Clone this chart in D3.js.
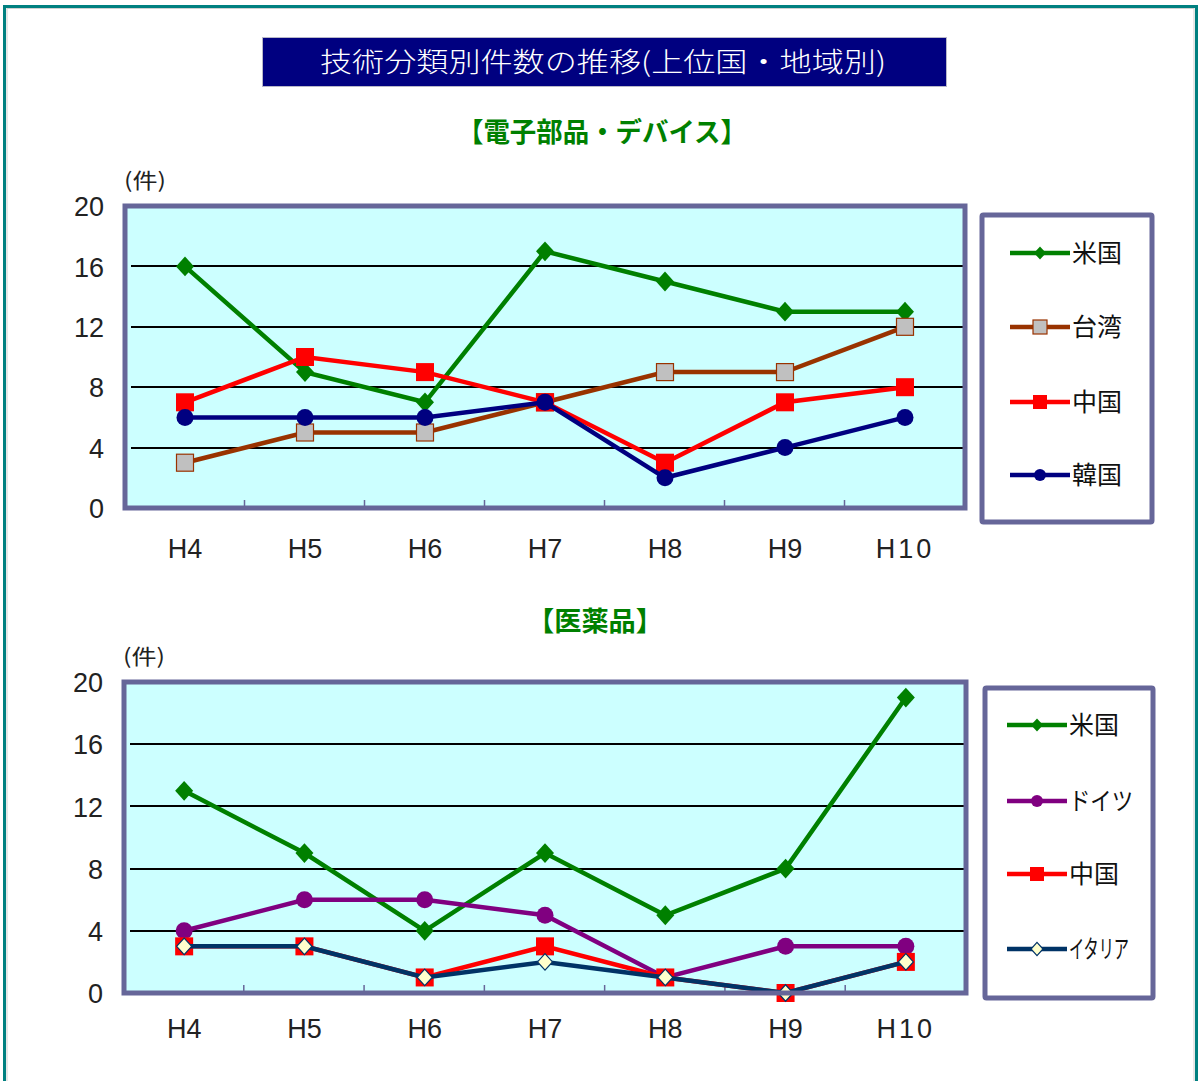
<!DOCTYPE html>
<html>
<head>
<meta charset="utf-8">
<script src="https://cdn.jsdelivr.net/npm/d3@7/dist/d3.min.js"></script>
<style>
  html, body { margin: 0; padding: 0; background: #fff; }
  svg { display: block; }
</style>
</head>
<body>
<svg id="page" width="1199" height="1081"></svg>
<script>
// Fiscal years on the x axis and value ticks on the y axis
const categories = ["H4", "H5", "H6", "H7", "H8", "H9", "H10"];
const yTicks = [0, 4, 8, 12, 16, 20];

// Electronic parts & devices (件)
const elecUS = [16, 9, 7, 17, 15, 13, 13];
const elecTW = [3, 5, 5, 7, 9, 9, 12];
const elecCN = [7, 10, 9, 7, 3, 7, 8];
const elecKR = [6, 6, 6, 7, 2, 4, 6];

// Pharmaceuticals (件)
const pharmaUS = [13, 9, 4, 9, 5, 8, 19];
const pharmaDE = [4, 6, 6, 5, 1, 3, 3];
const pharmaCN = [3, 3, 1, 3, 1, 0, 2];
const pharmaIT = [3, 3, 1, 2, 1, 0, 2];

const pageTitle = "技術分類別件数の推移(上位国・地域別)";
const unitLabel = "(件)";

const svg = d3.select("#page");
const JP = "'Noto Sans CJK JP', 'Noto Sans', sans-serif";
const NUM = "'Liberation Sans', Arial, sans-serif";

// outer frame
svg.append("rect").attr("x", 0).attr("y", 0).attr("width", 1199).attr("height", 1081).attr("fill", "#fff");
svg.append("rect").attr("x", 4.5).attr("y", 6.5).attr("width", 1192).attr("height", 1100)
  .attr("fill", "none").attr("stroke", "#008080").attr("stroke-width", 3);
svg.append("rect").attr("x", 7).attr("y", 8.5).attr("width", 1187).attr("height", 1100)
  .attr("fill", "none").attr("stroke", "#d0d0d0").attr("stroke-width", 1);

// title banner
svg.append("rect").attr("x", 262.5).attr("y", 37.5).attr("width", 684).attr("height", 49)
  .attr("fill", "#000080").attr("stroke", "#b8b8c8").attr("stroke-width", 1);
svg.append("text").attr("x", 320).attr("y", 72)
  .attr("textLength", 566).attr("lengthAdjust", "spacingAndGlyphs")
  .attr("font-family", JP).attr("font-size", 27).attr("font-weight", 300).attr("fill", "#fff")
  .text(pageTitle);

// marker shapes
function marker(g, kind, x, y, s, fill, stroke) {
  let el;
  if (kind === "diamond") {
    el = g.append("path").attr("d", `M${x},${y - s * 1.1}L${x + s},${y}L${x},${y + s * 1.1}L${x - s},${y}Z`);
  } else if (kind === "square") {
    el = g.append("rect").attr("x", x - s).attr("y", y - s).attr("width", 2 * s).attr("height", 2 * s);
  } else {
    el = g.append("circle").attr("cx", x).attr("cy", y).attr("r", s);
  }
  el.attr("fill", fill).attr("stroke", stroke || "none").attr("stroke-width", stroke ? 1.2 : 0);
}

function drawChart(cfg) {
  const g = svg.append("g");
  const { left, right, top, bottom } = cfg.plot;

  // chart heading
  g.append("text").attr("x", cfg.heading.x).attr("y", cfg.heading.y)
    .attr("textLength", cfg.heading.len).attr("lengthAdjust", "spacingAndGlyphs")
    .attr("font-family", JP).attr("font-size", 27).attr("font-weight", "bold").attr("fill", "#008000")
    .text(cfg.heading.text);

  const x = d3.scaleBand().domain(categories).range([left, right]);
  const y = d3.scaleLinear().domain([0, 20]).range([bottom, top]);
  const cx = c => x(c) + x.bandwidth() / 2;

  // plot background
  g.append("rect").attr("x", left).attr("y", top).attr("width", right - left).attr("height", bottom - top)
    .attr("fill", "#CCFFFF");

  // horizontal gridlines
  g.append("g").selectAll("line").data(yTicks.filter(v => v > 0 && v < 20)).join("line")
    .attr("x1", left + 6).attr("x2", right).attr("y1", d => Math.round(y(d))).attr("y2", d => Math.round(y(d)))
    .attr("stroke", "#000").attr("stroke-width", 2);

  // category separators on the bottom edge
  g.append("g").selectAll("line").data(categories.slice(1)).join("line")
    .attr("x1", d => x(d) - 0.5).attr("x2", d => x(d) - 0.5).attr("y1", bottom - 8).attr("y2", bottom)
    .attr("stroke", "#666699").attr("stroke-width", 1.5);

  // y tick labels
  const yAxis = g.append("g").attr("transform", `translate(${left - 21},0)`)
    .call(d3.axisLeft(y).tickValues(yTicks).tickSize(0).tickPadding(0));
  yAxis.select(".domain").remove();
  yAxis.selectAll("text").attr("font-family", NUM).attr("font-size", 27).attr("fill", "#222")
    .attr("dy", "0.36em");

  // x tick labels
  const xAxis = g.append("g").attr("transform", `translate(0,${cfg.xLabelY})`)
    .call(d3.axisBottom(x).tickSize(0).tickPadding(0));
  xAxis.select(".domain").remove();
  xAxis.selectAll("text").attr("font-family", NUM).attr("font-size", 27).attr("fill", "#222")
    .attr("dy", "0.36em").attr("letter-spacing", d => d === "H10" ? 3 : 0);

  // unit label
  g.append("text").attr("x", left - 1).attr("y", top - 18)
    .attr("textLength", 42).attr("lengthAdjust", "spacingAndGlyphs")
    .attr("font-family", JP).attr("font-size", 21).attr("fill", "#222").text(unitLabel);

  // series
  const line = d3.line().x((d, i) => cx(categories[i])).y(d => y(d));
  cfg.series.forEach(s => {
    g.append("path").datum(s.values).attr("d", line)
      .attr("fill", "none").attr("stroke", s.color).attr("stroke-width", 4.5).attr("stroke-linejoin", "miter");
    s.values.forEach((v, i) => marker(g, s.shape, cx(categories[i]), y(v), s.size, s.fill, s.stroke));
  });

  // plot border
  g.append("rect").attr("x", left).attr("y", top).attr("width", right - left).attr("height", bottom - top)
    .attr("fill", "none").attr("stroke", "#666699").attr("stroke-width", 5);

  // legend
  const L = cfg.legend;
  g.append("rect").attr("x", L.x).attr("y", L.y).attr("width", L.w).attr("height", L.h)
    .attr("fill", "#fff").attr("stroke", "#666699").attr("stroke-width", 5).attr("rx", 1.5);
  cfg.series.forEach((s, i) => {
    const ly = L.rows[i];
    g.append("line").attr("x1", L.lineX).attr("x2", L.lineX + 60).attr("y1", ly).attr("y2", ly)
      .attr("stroke", s.color).attr("stroke-width", 4.5);
    marker(g, s.shape, L.lineX + 30, ly, s.legendSize, s.fill, s.stroke);
    const t = g.append("text").attr("x", L.lineX + 62).attr("y", ly).attr("dy", "0.36em")
      .attr("font-family", JP).attr("font-size", 25).attr("fill", "#111").text(s.name);
    if (s.labelLen) t.attr("textLength", s.labelLen).attr("lengthAdjust", "spacingAndGlyphs");
  });
}

drawChart({
  heading: { text: "【電子部品・デバイス】", x: 457, y: 142, len: 290 },
  plot: { left: 125, right: 965, top: 206, bottom: 508 },
  xLabelY: 548,
  legend: { x: 982, y: 215, w: 170, h: 307, lineX: 1010, rows: [253, 327, 402, 475] },
  series: [
    { name: "米国", values: elecUS, color: "#008000", shape: "diamond", size: 9, legendSize: 6, fill: "#008000" },
    { name: "台湾", values: elecTW, color: "#993300", shape: "square", size: 8.5, legendSize: 7, fill: "#C0C0C0", stroke: "#993300" },
    { name: "中国", values: elecCN, color: "#FF0000", shape: "square", size: 9, legendSize: 7, fill: "#FF0000" },
    { name: "韓国", values: elecKR, color: "#000080", shape: "circle", size: 8.5, legendSize: 6, fill: "#000080" }
  ]
});

drawChart({
  heading: { text: "【医薬品】", x: 527, y: 631, len: 136 },
  plot: { left: 124, right: 966, top: 682, bottom: 993 },
  xLabelY: 1028,
  legend: { x: 985, y: 688, w: 168, h: 310, lineX: 1007, rows: [725, 801, 874, 949] },
  series: [
    { name: "米国", values: pharmaUS, color: "#008000", shape: "diamond", size: 9, legendSize: 6, fill: "#008000" },
    { name: "ドイツ", values: pharmaDE, color: "#800080", shape: "circle", size: 8.5, legendSize: 6, fill: "#800080", labelLen: 64 },
    { name: "中国", values: pharmaCN, color: "#FF0000", shape: "square", size: 9, legendSize: 7, fill: "#FF0000" },
    { name: "イタリア", values: pharmaIT, color: "#003366", shape: "diamond", size: 7.5, legendSize: 6, fill: "#FFFFCC", stroke: "#003366", labelLen: 60 }
  ]
});
</script>
</body>
</html>
